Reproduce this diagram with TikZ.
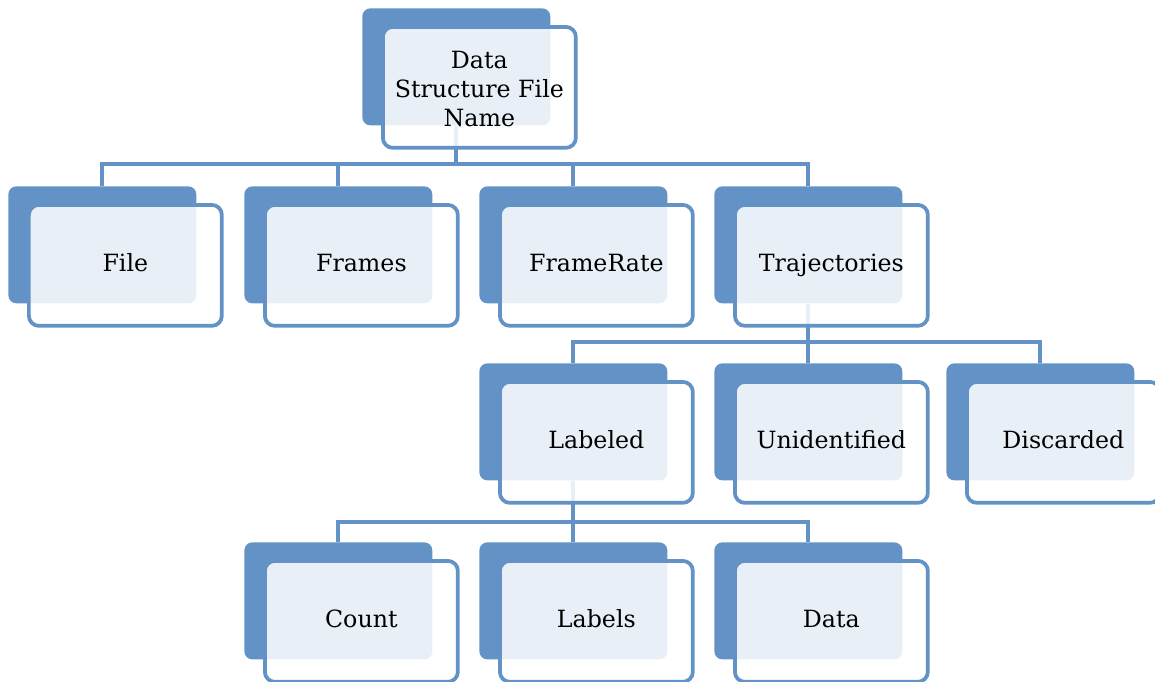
\documentclass[tikz,border=0pt]{standalone}
\usepackage{fontspec}
\setmainfont{DejaVu Serif}
\usepackage{xcolor}
\usepackage{tikz}
\usetikzlibrary{positioning}
\definecolor{boxblue}{HTML}{6393C6}
\pgfdeclarelayer{background}
\pgfsetlayers{background,main}
\tikzset{
  backbox/.style={fill=boxblue,rounded corners=0.16cm,minimum width=3.76cm,minimum height=2.34cm,inner sep=0pt,anchor=north west},
  frontbox/.style={draw=boxblue,line width=0.075cm,fill=white,fill opacity=0.86,text opacity=1,rounded corners=0.2cm,
    minimum width=3.86cm,minimum height=2.42cm,inner sep=2pt,anchor=north west,align=center,
    font=\fontsize{13.5}{16.5}\selectfont},
  link/.style={draw=boxblue,line width=0.075cm}
}
% back card and front card of one entry
\newcommand{\entry}[4]{%
  \node[backbox] (#1-b) at (#2,#3) {};
  \node[frontbox] (#1) at ({#2+19},{#3+17}) {\strut#4};}
\begin{document}
\begin{tikzpicture}[x=0.02cm,y=-0.02cm]
\useasboundingbox (0,0) rectangle (1155,681);
\entry{top}{362}{8}{Data\\Structure File\\Name}
\entry{file}{8}{186}{File}
\entry{frames}{244}{186}{Frames}
\entry{rate}{479}{186}{FrameRate}
\entry{traj}{714}{186}{Trajectories}
\entry{lab}{479}{363}{Labeled}
\entry{unid}{714}{363}{Unidentified}
\entry{disc}{946}{363}{Discarded}
\entry{count}{244}{542}{Count}
\entry{labels}{479}{542}{Labels}
\entry{data}{714}{542}{Data}
\coordinate (bar1) at (0,164);
\coordinate (bar2) at (0,342);
\coordinate (bar3) at (0,522);
% connectors behind the cards
\begin{pgfonlayer}{background}
\foreach \c in {file,frames,rate,traj}
  \draw[link] (top-b.south) -- (top-b.south |- bar1) -| (\c-b.north);
\foreach \c in {lab,unid,disc}
  \draw[link] (traj-b.south) -- (traj-b.south |- bar2) -| (\c-b.north);
\foreach \c in {count,labels,data}
  \draw[link] (lab-b.south) -- (lab-b.south |- bar3) -| (\c-b.north);
\end{pgfonlayer}
\end{tikzpicture}
\end{document}
